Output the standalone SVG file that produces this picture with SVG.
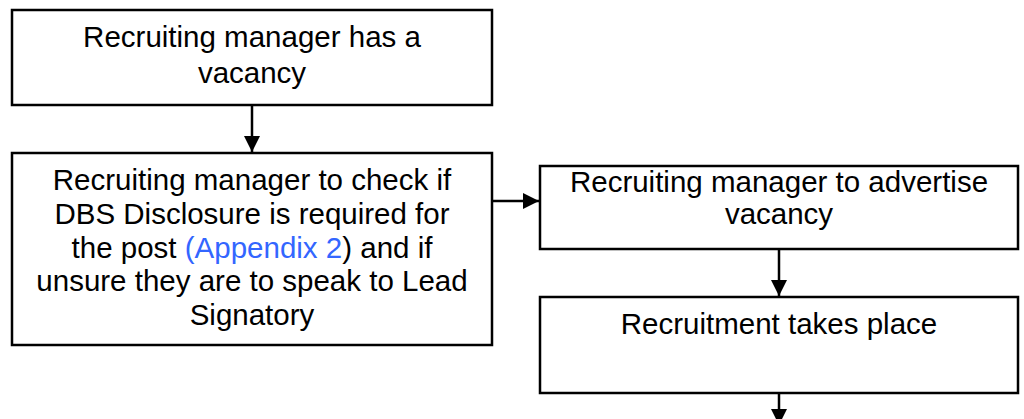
<svg xmlns="http://www.w3.org/2000/svg" width="1024" height="419" viewBox="0 0 1024 419">
<defs>
<style>
.box{fill:#fff;stroke:#000;stroke-width:2.5}
.t{font-family:"Liberation Sans",Arial,sans-serif;font-size:29.5px;fill:#000;text-anchor:middle}
.link{fill:#3366ff}
.c{stroke:#000;stroke-width:2.5;fill:none}
</style>
<marker id="ah" markerWidth="16" markerHeight="16" refX="16" refY="8" orient="auto" markerUnits="userSpaceOnUse" viewBox="0 0 16 16">
<path d="M0,0 L16,8 L0,16 z" fill="#000"/>
</marker>
</defs>
<rect width="1024" height="419" fill="#fff"/>
<g id="n1">
<rect class="box" x="12" y="10" width="480" height="95"/>
<text class="t" x="252" y="47">Recruiting manager has a</text>
<text class="t" x="252" y="83">vacancy</text>
</g>
<g id="n2">
<rect class="box" x="12" y="153" width="480" height="192"/>
<text class="t" x="252" y="190">Recruiting manager to check if</text>
<text class="t" x="252" y="224">DBS Disclosure is required for</text>
<text class="t" x="252" y="258">the post <tspan class="link">(Appendix 2</tspan>) and if</text>
<text class="t" x="252" y="291">unsure they are to speak to Lead</text>
<text class="t" x="252" y="325">Signatory</text>
</g>
<g id="n3">
<rect class="box" x="540" y="166" width="478" height="83"/>
<text class="t" x="779" y="192">Recruiting manager to advertise</text>
<text class="t" x="779" y="224">vacancy</text>
</g>
<g id="n4">
<rect class="box" x="540" y="297" width="478" height="96"/>
<text class="t" x="779" y="334">Recruitment takes place</text>
</g>
<g id="connectors">
<line class="c" x1="252" y1="105" x2="252" y2="152" marker-end="url(#ah)"/>
<line class="c" x1="492" y1="201" x2="539" y2="201" marker-end="url(#ah)"/>
<line class="c" x1="779" y1="249" x2="779" y2="296" marker-end="url(#ah)"/>
<line class="c" x1="779" y1="393" x2="779" y2="425" marker-end="url(#ah)"/>
</g>
</svg>
